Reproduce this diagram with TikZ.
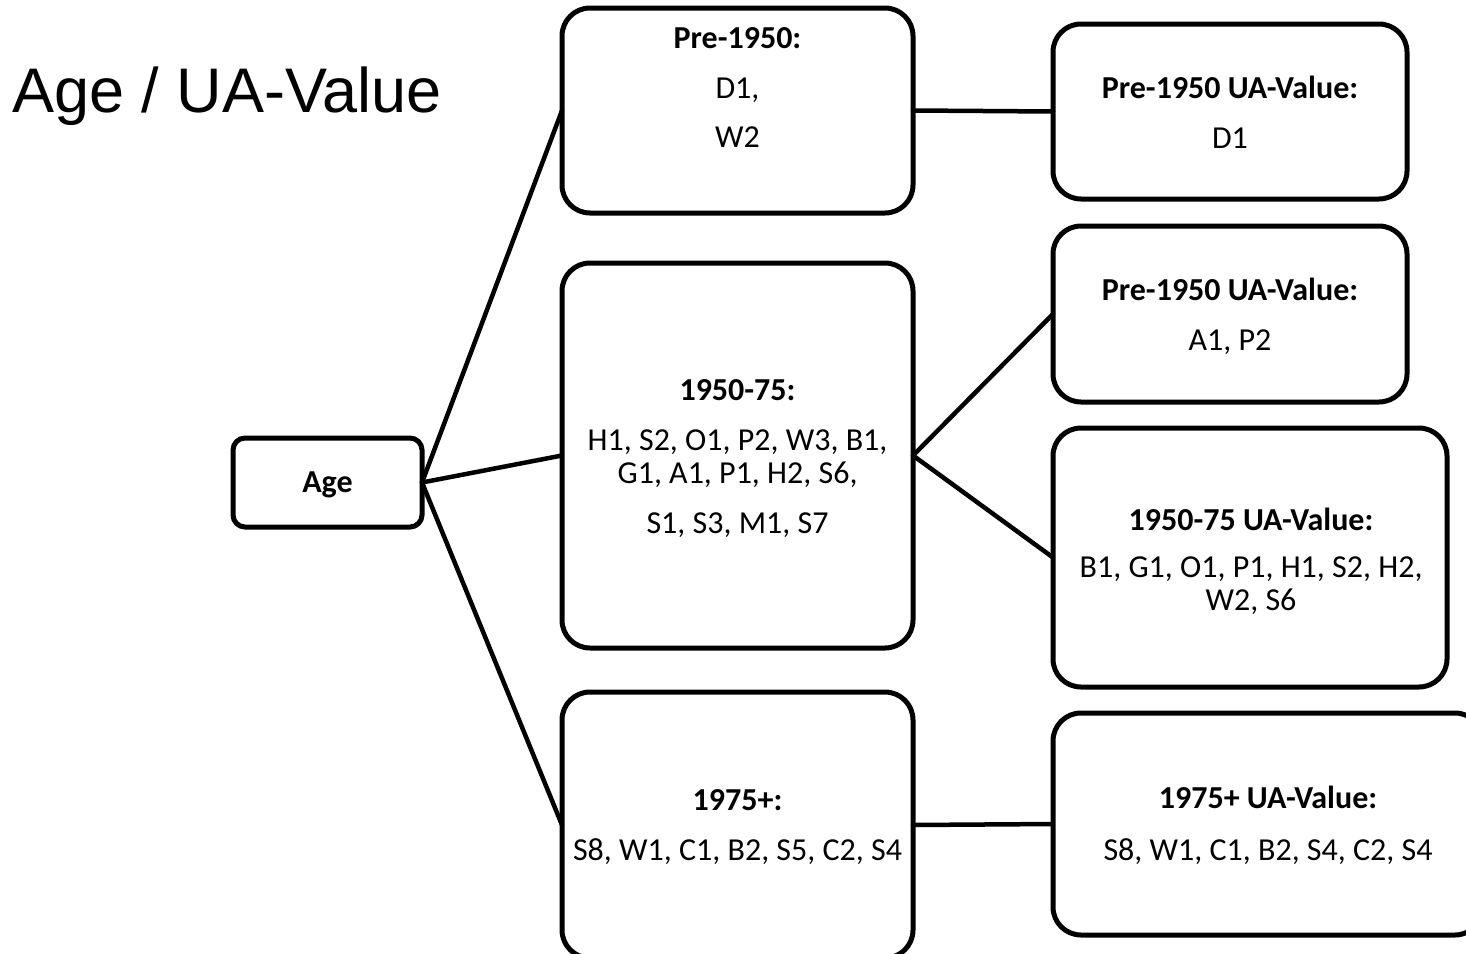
\documentclass[tikz,border=0pt]{standalone}
\usepackage{fontspec}
\setmainfont{Carlito}
\newfontfamily\titlefont{Liberation Sans}
\begin{document}
\begin{tikzpicture}[x=1pt,y=-1pt,
  box/.style={draw=black,line width=5pt,rounded corners=28pt,rectangle,inner sep=0pt,outer sep=0pt},
  smallbox/.style={box,rounded corners=12pt},
  txt/.style={anchor=base,inner sep=0pt,font=\fontsize{32}{38}\selectfont},
  btxt/.style={txt,font=\fontsize{32}{38}\selectfont\bfseries},
  link/.style={line width=4.5pt,line cap=round}]
\useasboundingbox (0,0) rectangle (1466,953);
\fill[white] (0,0) rectangle (1466,953);
% title
\node[anchor=base west,inner sep=0pt,font=\titlefont\fontsize{63}{70}\selectfont] (title) at (12,112) {Age / UA-Value};
% boxes
\node[smallbox,minimum width=189pt,minimum height=89pt] (age) at (327.5,482.5) {};
\node[box,minimum width=351pt,minimum height=205pt] (pre) at (737.5,110.5) {};
\node[box,minimum width=351pt,minimum height=385pt] (mid) at (737.5,455.5) {};
\node[box,minimum width=351pt,minimum height=266pt] (post) at (737.5,825) {};
\node[box,minimum width=354pt,minimum height=175pt] (preua) at (1230,111.5) {};
\node[box,minimum width=354pt,minimum height=176pt] (preuab) at (1230,314) {};
\node[box,minimum width=394pt,minimum height=259pt] (midua) at (1250,557.5) {};
\node[box,minimum width=430pt,minimum height=222pt] (postua) at (1268,824) {};
% connectors
\draw[link] (age.east) -- (pre.west);
\draw[link] (age.east) -- (mid.west);
\draw[link] (age.east) -- (post.west);
\draw[link] (pre.east) -- (preua.west);
\draw[link] (mid.east) -- (preuab.west);
\draw[link] (mid.east) -- (midua.west);
\draw[link] (post.east) -- (postua.west);
% texts
\node[btxt] (tage) at (327.5,492) {Age};
\node[btxt] (tpre1) at (737.5,48) {Pre-1950:};
\node[txt] (tpre2) at (737.5,98) {D1,};
\node[txt] (tpre3) at (737.5,147) {W2};
\node[btxt] (tmid1) at (737.5,400) {1950-75:};
\node[txt] (tmid2) at (737.5,450) {H1, S2, O1, P2, W3, B1,};
\node[txt] (tmid3) at (737.5,483) {G1, A1, P1, H2, S6,};
\node[txt] (tmid4) at (737.5,533) {S1, S3, M1, S7};
\node[btxt] (tpost1) at (737.5,810) {1975+:};
\node[txt] (tpost2) at (737.5,860) {S8, W1, C1, B2, S5, C2, S4};
\node[btxt] (tpreua1) at (1230,98) {Pre-1950 UA-Value:};
\node[txt] (tpreua2) at (1230,148) {D1};
\node[btxt] (tpreuab1) at (1230,300) {Pre-1950 UA-Value:};
\node[txt] (tpreuab2) at (1230,350) {A1, P2};
\node[btxt] (tmidua1) at (1251,530) {1950-75 UA-Value:};
\node[txt] (tmidua2) at (1251,577) {B1, G1, O1, P1, H1, S2, H2,};
\node[txt] (tmidua3) at (1251,610) {W2, S6};
\node[btxt] (tpostua1) at (1268,808) {1975+ UA-Value:};
\node[txt] (tpostua2) at (1268,860) {S8, W1, C1, B2, S4, C2, S4};
\end{tikzpicture}
\end{document}
